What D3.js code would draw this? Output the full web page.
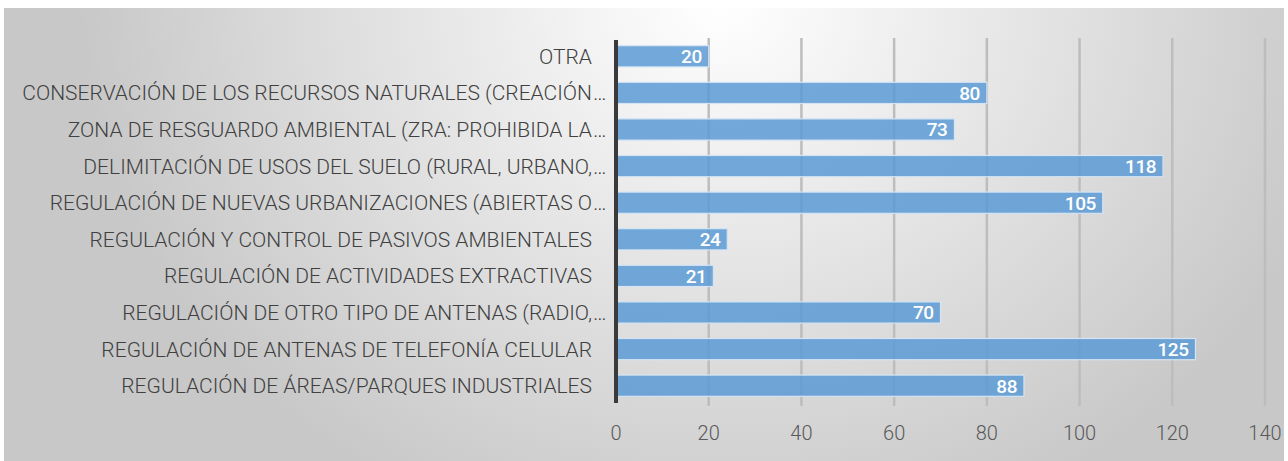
<!DOCTYPE html>
<html>
<head>
<meta charset="utf-8">
<script src="https://cdn.jsdelivr.net/npm/d3@7"></script>
<style>
  body { margin: 0; background: #fff; }
  svg { display: block; }
</style>
</head>
<body>
<svg></svg>
<script>
const categories = [
    "OTRA",
    "CONSERVACIÓN DE LOS RECURSOS NATURALES (CREACIÓN",
    "ZONA DE RESGUARDO AMBIENTAL (ZRA: PROHIBIDA LA",
    "DELIMITACIÓN DE USOS DEL SUELO (RURAL, URBANO,",
    "REGULACIÓN DE NUEVAS URBANIZACIONES (ABIERTAS O",
    "REGULACIÓN Y CONTROL DE PASIVOS AMBIENTALES",
    "REGULACIÓN DE ACTIVIDADES EXTRACTIVAS",
    "REGULACIÓN DE OTRO TIPO DE ANTENAS (RADIO,",
    "REGULACIÓN DE ANTENAS DE TELEFONÍA CELULAR",
    "REGULACIÓN DE ÁREAS/PARQUES INDUSTRIALES"
];
const truncated = [false, true, true, true, true, false, false, true, false, false];
const values = [20, 80, 73, 118, 105, 24, 21, 70, 125, 88];
const xTicks = [0, 20, 40, 60, 80, 100, 120, 140];

const svg = d3.select("svg");
const width = 1288;
const height = 461;
const font = "Roboto, 'Noto Sans', sans-serif";
svg.attr("width", width).attr("height", height);

// background gradient
const defs = svg.append("defs");
const grad = defs.append("radialGradient")
    .attr("id", "bg")
    .attr("gradientUnits", "userSpaceOnUse")
    .attr("cx", 0).attr("cy", 0).attr("r", 1)
    .attr("gradientTransform", "translate(720,0) scale(640,560)");
grad.append("stop").attr("offset", 0).attr("stop-color", "#ffffff");
grad.append("stop").attr("offset", 1).attr("stop-color", "#c8c8c8");

svg.append("rect")
    .attr("x", 4).attr("y", 8)
    .attr("width", 1280).attr("height", height - 8)
    .attr("fill", "url(#bg)");

const x = d3.scaleLinear().domain([0, 140]).range([616, 1265]);
const y = d3.scaleBand().domain(categories).range([38, 404]).paddingInner(0.42).paddingOuter(0.21);

// grid lines
svg.append("g")
    .selectAll("line")
    .data(xTicks.slice(1))
    .join("line")
    .attr("x1", d => x(d)).attr("x2", d => x(d))
    .attr("y1", 38).attr("y2", 406)
    .attr("stroke", "#bdbdbd")
    .attr("stroke-width", 2.5);

// bars
svg.append("g")
    .selectAll("rect")
    .data(values)
    .join("rect")
    .attr("x", x(0))
    .attr("y", (d, i) => y(categories[i]))
    .attr("width", d => x(d) - x(0))
    .attr("height", y.bandwidth())
    .attr("fill", "#5b9bd5")
    .attr("fill-opacity", 0.85)
    .attr("stroke", "#d4e4f4")
    .attr("stroke-width", 1.2);

// value labels
svg.append("g")
    .selectAll("text")
    .data(values)
    .join("text")
    .attr("x", d => x(d) - 7)
    .attr("y", (d, i) => y(categories[i]) + y.bandwidth() / 2)
    .attr("dy", "0.36em")
    .attr("text-anchor", "end")
    .attr("fill", "#ffffff")
    .attr("font-family", font)
    .attr("font-weight", 500)
    .attr("font-size", 19)
    .attr("letter-spacing", -0.5)
    .text(d => d);

// zero axis line
svg.append("line")
    .attr("x1", x(0)).attr("x2", x(0))
    .attr("y1", 40).attr("y2", 403)
    .attr("stroke", "#3a3a3a")
    .attr("stroke-width", 4);

// category labels
const labels = svg.append("g")
    .selectAll("g")
    .data(categories)
    .join("g")
    .attr("transform", d => `translate(0, ${y(d) + y.bandwidth() / 2})`);

labels.append("text")
    .attr("x", 592)
    .attr("dy", "0.36em")
    .attr("text-anchor", "end")
    .attr("fill", "#404040")
    .attr("font-family", font)
    .attr("font-weight", 300)
    .attr("font-size", 21)
    .text(d => d);

labels.filter((d, i) => truncated[i])
    .append("text")
    .attr("x", 593)
    .attr("dy", "0.36em")
    .attr("fill", "#404040")
    .attr("font-family", font)
    .attr("font-weight", 300)
    .attr("font-size", 21)
    .text("…");

// x tick labels
svg.append("g")
    .selectAll("text")
    .data(xTicks)
    .join("text")
    .attr("x", d => x(d))
    .attr("y", 433)
    .attr("dy", "0.36em")
    .attr("text-anchor", "middle")
    .attr("fill", "#595959")
    .attr("font-family", font)
    .attr("font-weight", 300)
    .attr("font-size", 20)
    .text(d => d);
</script>
</body>
</html>
